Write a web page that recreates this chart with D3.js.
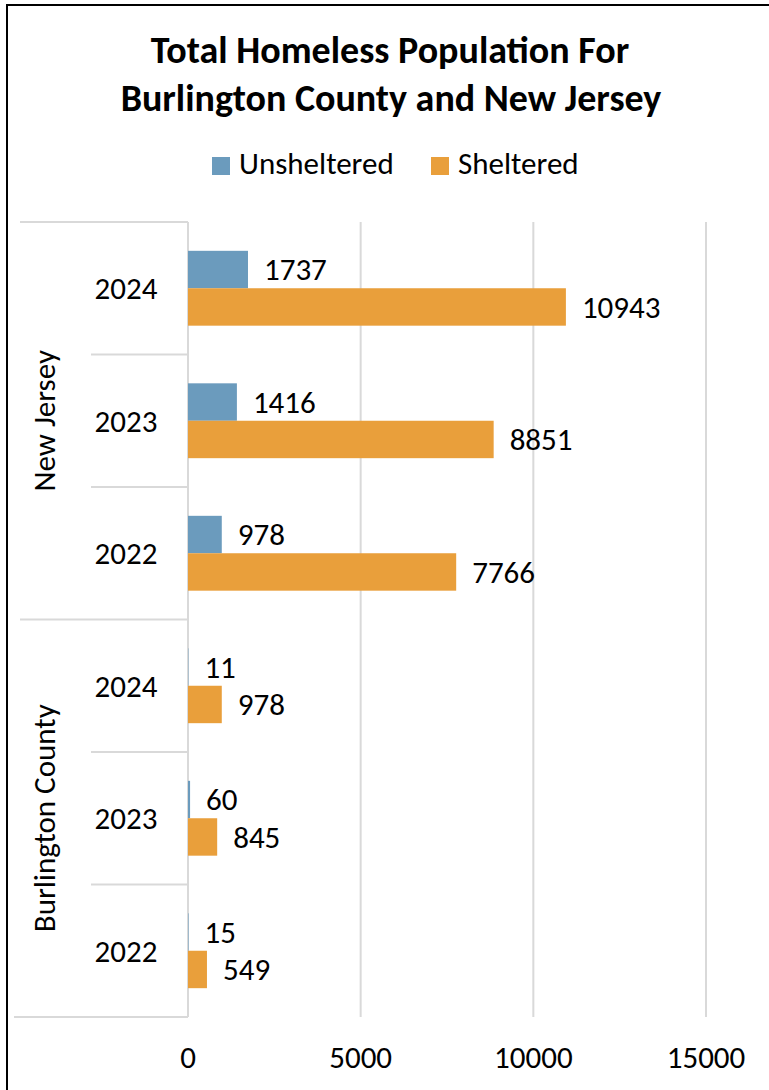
<!DOCTYPE html>
<html>
<head>
<meta charset="utf-8">
<script src="https://cdn.jsdelivr.net/npm/d3@7"></script>
<style>
  body { margin: 0; background: #fff; }
  text { font-family: Carlito, Lato, sans-serif; fill: #000; }
</style>
</head>
<body>
<div id="chart"></div>
<script>
const groups = ["New Jersey", "Burlington County"];
const years = ["2024", "2023", "2022"];
const series = ["Unsheltered", "Sheltered"];
const unsheltered = [1737, 1416, 978, 11, 60, 15];
const sheltered = [10943, 8851, 7766, 978, 845, 549];
const xTicks = [0, 5000, 10000, 15000];
const colors = ["#6b9bbd", "#e99f3b"];

const W = 769, H = 1090;
const plot = {left: 188, right: 706, top: 222, bottom: 1017};
const fs = 31;

// one row per group/year, in drawing order from the top
const rows = [];
groups.forEach((g, gi) => years.forEach((yr, yi) => {
  const i = gi * years.length + yi;
  rows.push({id: g + "-" + yr, group: g, year: yr, values: [unsheltered[i], sheltered[i]]});
}));

const svg = d3.select("#chart").append("svg")
    .attr("width", W)
    .attr("height", H);

svg.append("rect")
    .attr("x", 7).attr("y", 5)
    .attr("width", W + 20).attr("height", H + 20)
    .attr("fill", "#fff")
    .attr("stroke", "#000")
    .attr("stroke-width", 2);

const x = d3.scaleLinear()
    .domain([0, 15000])
    .range([plot.left, plot.right]);

const y = d3.scaleBand()
    .domain(rows.map(d => d.id))
    .range([plot.top, plot.bottom]);

const y1 = d3.scaleBand()
    .domain(series)
    .range([0, y.bandwidth()])
    .paddingOuter(0.77);

// title
const title = svg.append("text")
    .attr("text-anchor", "middle")
    .attr("font-weight", "bold")
    .attr("font-size", 38);
title.append("tspan").attr("x", 390).attr("y", 63).text("Total Homeless Population For");
title.append("tspan").attr("x", 391).attr("y", 111).text("Burlington County and New Jersey");

// legend
const legendX = [212, 431];
const legend = svg.append("g").selectAll("g")
    .data(series)
    .join("g")
    .attr("transform", (d, i) => `translate(${legendX[i]},157)`);
legend.append("rect")
    .attr("width", 18).attr("height", 18)
    .attr("fill", (d, i) => colors[i]);
legend.append("text")
    .attr("x", 27).attr("y", 17)
    .attr("font-size", fs)
    .text(d => d);

// vertical gridlines
svg.append("g")
    .selectAll("line")
    .data(xTicks.slice(1))
    .join("line")
    .attr("x1", d => x(d)).attr("x2", d => x(d))
    .attr("y1", plot.top).attr("y2", plot.bottom)
    .attr("stroke", "#d9d9d9")
    .attr("stroke-width", 2);

// x tick labels
svg.append("g")
    .selectAll("text")
    .data(xTicks)
    .join("text")
    .attr("x", d => x(d))
    .attr("y", 1068)
    .attr("text-anchor", "middle")
    .attr("font-size", fs)
    .text(d => d);

// category axis: separators
const bounds = d3.range(rows.length + 1);
svg.append("g")
    .selectAll("line")
    .data(bounds)
    .join("line")
    .attr("x1", i => i % years.length === 0 ? (i === rows.length ? 14 : 20) : 91)
    .attr("x2", plot.left)
    .attr("y1", i => plot.top + i * y.step())
    .attr("y2", i => plot.top + i * y.step())
    .attr("stroke", "#d9d9d9")
    .attr("stroke-width", 2);

svg.append("line")
    .attr("x1", plot.left).attr("x2", plot.left)
    .attr("y1", plot.top).attr("y2", plot.bottom)
    .attr("stroke", "#d9d9d9")
    .attr("stroke-width", 2);

// year labels
svg.append("g")
    .selectAll("text")
    .data(rows)
    .join("text")
    .attr("x", 126)
    .attr("y", d => y(d.id) + y.bandwidth() / 2)
    .attr("dy", "0.35em")
    .attr("text-anchor", "middle")
    .attr("font-size", fs)
    .text(d => d.year);

// group labels
svg.append("g")
    .selectAll("text")
    .data(groups)
    .join("text")
    .attr("transform", (g, gi) => {
      const cy = y(g + "-" + years[0]) + years.length * y.step() / 2;
      return `translate(44,${cy}) rotate(-90)`;
    })
    .attr("dy", "0.35em")
    .attr("text-anchor", "middle")
    .attr("font-size", fs)
    .text(d => d);

// bars
const rowG = svg.append("g")
    .selectAll("g")
    .data(rows)
    .join("g")
    .attr("transform", d => `translate(0,${y(d.id)})`);

rowG.selectAll("rect")
    .data(d => d.values.map((v, i) => ({key: series[i], v, i})))
    .join("rect")
    .attr("x", x(0))
    .attr("y", d => y1(d.key))
    .attr("width", d => x(d.v) - x(0))
    .attr("height", y1.bandwidth())
    .attr("fill", d => colors[d.i]);

rowG.selectAll("text")
    .data(d => d.values.map((v, i) => ({key: series[i], v, i})))
    .join("text")
    .attr("x", d => x(d.v) + 16)
    .attr("y", d => y1(d.key) + y1.bandwidth() / 2)
    .attr("dy", "0.35em")
    .attr("font-size", fs)
    .text(d => d.v);
</script>
</body>
</html>
